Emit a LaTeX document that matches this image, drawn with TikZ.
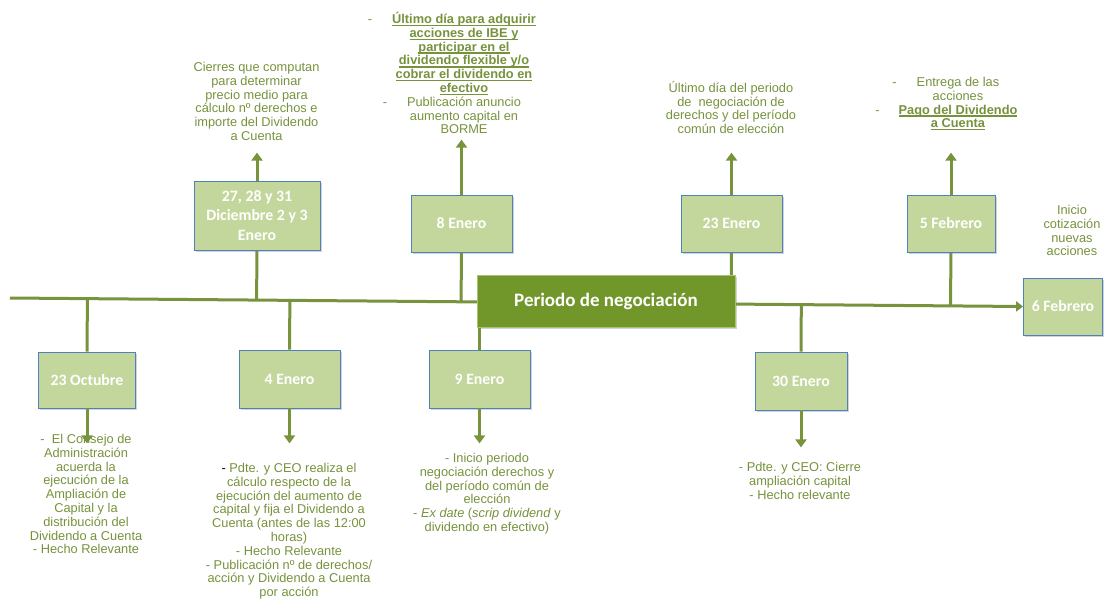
\documentclass[tikz,border=0pt]{standalone}
\usepackage{fontspec}
\setmainfont{Liberation Sans}
\newfontfamily\boxfont{Carlito}
\usetikzlibrary{arrows.meta}
\usetikzlibrary{calc}
\usetikzlibrary{backgrounds}
\usetikzlibrary{shadows}
\definecolor{olive}{HTML}{77933C}
\definecolor{notegreen}{HTML}{76923C}
\definecolor{boxfill}{HTML}{C3D69B}
\definecolor{boxline}{HTML}{4F81BD}
\definecolor{darkbox}{HTML}{71962A}
\definecolor{darkline}{HTML}{A9C46E}
\newcommand\ulbold[1]{\setbox0\hbox{\textbf{#1}}\leavevmode\rlap{\rule[-2.6pt]{\wd0}{1.3pt}}\box0}

\begin{document}
\begin{tikzpicture}[x=1pt, y=1pt,
        datebox/.style = {
        draw=boxline, line width=0.8pt, fill=boxfill, text=white, align=center,
        inner sep=2pt, font={\boxfont\bfseries\fontsize{15.8}{19.5}\selectfont},
        drop shadow={shadow xshift=1.5pt, shadow yshift=-1.5pt, opacity=0.35}
        },
        periodbox/.style = {
        draw=darkline, line width=1pt, fill=darkbox, text=white,
        font={\boxfont\bfseries\fontsize{19}{23}\selectfont},
        drop shadow={shadow xshift=1.5pt, shadow yshift=-1.5pt, opacity=0.35}
        },
        note/.style = {
        text=notegreen, align=center, inner sep=0pt, anchor=north,
        font={\fontsize{12.8}{13.8}\selectfont}
        },
        timeline/.style = {draw=olive, line width=3pt},
        arr/.style = {draw=olive, line width=3pt, -{Triangle[width=11pt, length=8pt]}}
        ]
    \useasboundingbox (0,0) rectangle (1104,-600);

    \node[periodbox, minimum width=258, minimum height=52] (periodo) at (606,-301) {Periodo de negociación};

    \node[datebox, minimum width=126, minimum height=69] (dic) at (257,-215.5) {27, 28 y 31\\Diciembre 2 y 3\\Enero};
    \node[datebox, minimum width=101, minimum height=57] (ene8) at (461.5,-223.5) {8 Enero};
    \node[datebox, minimum width=101, minimum height=57] (ene23) at (731.5,-223.5) {23 Enero};
    \node[datebox, minimum width=88, minimum height=57] (feb5) at (951,-223.5) {5 Febrero};
    \node[datebox, minimum width=79, minimum height=57] (feb6) at (1063,-306.5) {6 Febrero};
    \node[datebox, minimum width=97, minimum height=56] (oct) at (87,-380) {23 Octubre};
    \node[datebox, minimum width=101, minimum height=58] (ene4) at (289.5,-379) {4 Enero};
    \node[datebox, minimum width=101, minimum height=58] (ene9) at (479.5,-379) {9 Enero};
    \node[datebox, minimum width=92, minimum height=58] (ene30) at (801,-381) {30 Enero};

    \node[note] (dicnote) at (256.5,-62) {Cierres que computan\\para determinar\\precio medio para\\cálculo nº derechos e\\importe del Dividendo\\a Cuenta};
    \node[note] (ene8note) at (464,-12) {\llap{-\hspace{20pt}}\ulbold{Último día para adquirir}\\
        \ulbold{acciones de IBE y}\\
        \ulbold{participar en el}\\
        \ulbold{dividendo flexible y/o}\\
        \ulbold{cobrar el dividendo en}\\
        \ulbold{efectivo}\\
        \llap{-\hspace{20pt}}Publicación anuncio\\aumento capital en\\BORME};
    \node[note] (ene23note) at (731,-81) {Último día del periodo\\de\ \ negociación de\\derechos y del período\\común de elección};
    \node[note] (feb5note) at (958,-77) {\llap{-\hspace{20pt}}Entrega de las\\acciones\\
        \llap{-\hspace{19pt}}\ulbold{Pago del Dividendo}\\
        \ulbold{a Cuenta}};
    \node[note] (feb6note) at (1072,-205) {Inicio\\cotización\\nuevas\\acciones};
    \node[note] (octnote) at (86,-434) {-\ \ El Consejo de\\Administración\\acuerda la\\ejecución de la\\Ampliación de\\Capital y la\\distribución del\\Dividendo a Cuenta\\- Hecho Relevante};
    \node[note] (ene4note) at (289,-463) {\textcolor{black}{-} Pdte. y CEO realiza el\\cálculo respecto de la\\ejecución del aumento de\\capital y fija el Dividendo a\\Cuenta (antes de las 12:00\\horas)\\- Hecho Relevante\\- Publicación nº de derechos/\\acción y Dividendo a Cuenta\\por acción};
    \node[note] (ene9note) at (487,-453) {- Inicio periodo\\negociación derechos y\\del período común de\\elección\\- \textit{Ex date} (\textit{scrip dividend} y\\dividendo en efectivo)};
    \node[note] (ene30note) at (800,-462) {- Pdte. y CEO: Cierre\\ampliación capital\\- Hecho relevante};

    \coordinate (start) at (10,-298);
    \coordinate (dictip) at ([yshift=28pt]dic.north);
    \coordinate (ene8tip) at ([yshift=55pt]ene8.north);
    \coordinate (ene23tip) at ([yshift=42pt]ene23.north);
    \coordinate (feb5tip) at ([yshift=42pt]feb5.north);
    \coordinate (octtip) at ([yshift=-35pt]oct.south);
    \coordinate (ene4tip) at ([yshift=-35pt]ene4.south);
    \coordinate (ene9tip) at ([yshift=-35pt]ene9.south);
    \coordinate (ene30tip) at ([yshift=-37pt]ene30.south);

    \begin{scope}[on background layer]
        \draw[timeline, -{Triangle[width=10pt, length=7pt]}] (start) -- (feb6.west);
        \foreach \d in {dic,ene8,ene23,feb5}
            \draw[timeline] (\d.south) -- ($(start)!(\d.south)!(feb6.west)$);
        \foreach \d in {oct,ene4,ene30}
            \draw[timeline] (\d.north) -- ($(start)!(\d.north)!(feb6.west)$);
        \draw[timeline] (ene9.north) -- (ene9.north |- periodo.south);
    \end{scope}

    \foreach \d in {dic,ene8,ene23,feb5,oct,ene4,ene9,ene30}
        \draw[arr] (\d) -- (\d tip);
\end{tikzpicture}
\end{document}
